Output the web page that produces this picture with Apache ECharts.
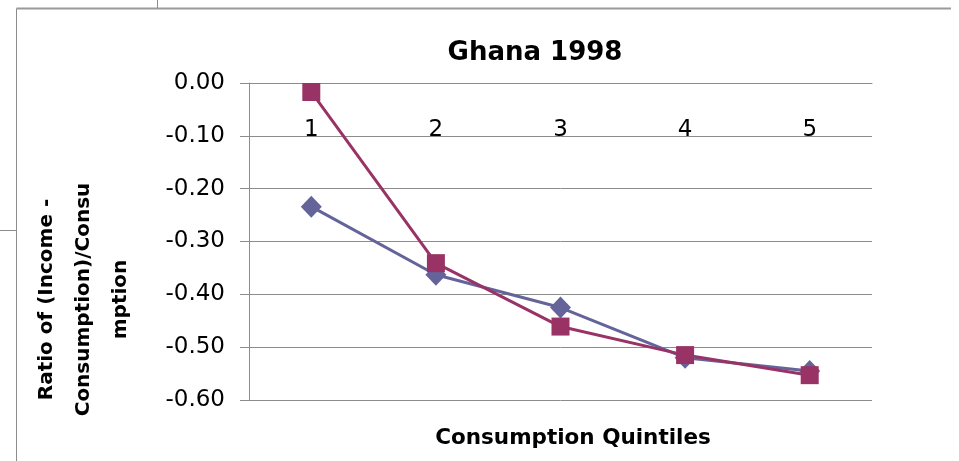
<!DOCTYPE html>
<html>
<head>
<meta charset="UTF-8">
<title>Ghana 1998</title>
</head>
<body style="margin:0">
<div id="container" style="width:959px;height:461px"></div>
<script src="https://cdn.jsdelivr.net/npm/echarts@6/dist/echarts.min.js"></script>
<script>
var quintiles = ['1', '2', '3', '4', '5'];
var seriesA = [-0.234, -0.363, -0.425, -0.520, -0.545];
var seriesB = [-0.017, -0.341, -0.461, -0.515, -0.553];

var font = 'DejaVu Sans';
var gray = '#8c8c8c';
var chart = echarts.init(document.getElementById('container'));

var option = {
    backgroundColor: '#fff',
    animation: false,
    title: [{
        text: 'Ghana 1998',
        left: 530,
        top: 35,
        textAlign: 'center',
        textStyle: {fontFamily: font, fontSize: 26, fontWeight: 'bold', color: '#000'}
    }, {
        text: 'Consumption Quintiles',
        left: 568,
        top: 422,
        textAlign: 'center',
        textStyle: {fontFamily: font, fontSize: 21.5, fontWeight: 'bold', color: '#000'}
    }],
    grid: {left: 249, right: 87, top: 83, bottom: 61},
    xAxis: {
        type: 'category',
        position: 'top',
        data: quintiles,
        boundaryGap: true,
        axisLine: {lineStyle: {color: gray, width: 1}},
        axisTick: {inside: true, length: 9, lineStyle: {color: gray}},
        axisLabel: {inside: true, margin: 36, fontFamily: font, fontSize: 23, color: '#000'}
    },
    yAxis: {
        type: 'value',
        min: -0.6,
        max: 0,
        interval: 0.1,
        name: 'Ratio of (Income -\nConsumption)/Consu\nmption',
        nameLocation: 'middle',
        nameGap: 110,
        nameTextStyle: {fontFamily: font, fontSize: 20, fontWeight: 'bold', color: '#000',
            lineHeight: 37, padding: [0, 116, 0, 0]},
        axisLine: {show: true, lineStyle: {color: gray, width: 1}},
        axisTick: {show: true, length: 9, lineStyle: {color: gray}},
        axisLabel: {margin: 24, fontFamily: font, fontSize: 23, color: '#000',
            formatter: function (v) { return v.toFixed(2); }},
        splitLine: {lineStyle: {color: gray, width: 1}}
    },
    series: [{
        type: 'line',
        data: seriesA,
        symbol: 'diamond',
        symbolSize: [21, 22],
        itemStyle: {color: '#64649b'},
        lineStyle: {color: '#64649b', width: 3}
    }, {
        type: 'line',
        data: seriesB,
        symbol: 'rect',
        symbolSize: 18,
        itemStyle: {color: '#993366'},
        lineStyle: {color: '#993366', width: 3}
    }],
    // spreadsheet frame and cell lines around the chart
    graphic: [{
        type: 'line',
        shape: {x1: 16.5, y1: 8.5, x2: 951, y2: 8.5},
        style: {stroke: '#9a9a9a', lineWidth: 2}
    }, {
        type: 'line',
        shape: {x1: 16.5, y1: 8.5, x2: 16.5, y2: 461},
        style: {stroke: gray, lineWidth: 1}
    }, {
        type: 'line',
        shape: {x1: 157.5, y1: 0, x2: 157.5, y2: 8},
        style: {stroke: gray, lineWidth: 1}
    }, {
        type: 'line',
        shape: {x1: 0, y1: 230.5, x2: 16, y2: 230.5},
        style: {stroke: gray, lineWidth: 1}
    }]
};
chart.setOption(option);
</script>
</body>
</html>
